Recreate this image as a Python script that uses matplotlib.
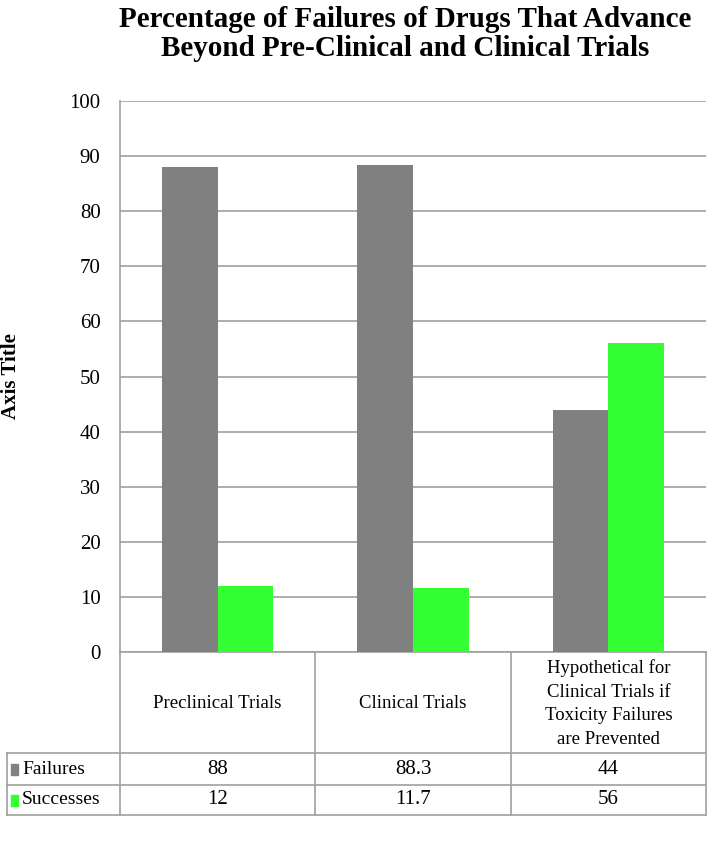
import numpy as np
import matplotlib
matplotlib.use("Agg")
import matplotlib.pyplot as plt
from matplotlib.patches import Rectangle

categories = ["Preclinical Trials", "Clinical Trials",
              "Hypothetical for\nClinical Trials if\nToxicity Failures\nare Prevented"]
series_names = ["Failures", "Successes"]
failures = [88, 88.3, 44]
successes = [12, 11.7, 56]
failure_labels = ["88", "88.3", "44"]
success_labels = ["12", "11.7", "56"]
y_ticks = [0, 10, 20, 30, 40, 50, 60, 70, 80, 90, 100]

GRAY = "#808080"
GREEN = "#33FF33"
LINE = "#A0A0A0"

plt.rcParams["font.family"] = ["Liberation Serif", "DejaVu Serif"]

W, H = 716, 857
fig = plt.figure(figsize=(W / 100, H / 100), dpi=100)

# plot area in pixels
px_left, px_right, px_top, px_bottom = 120, 706, 101, 652
ax = fig.add_axes([px_left / W, 1 - px_bottom / H,
                   (px_right - px_left) / W, (px_bottom - px_top) / H])

x = np.arange(len(categories))
bw = 0.285
ax.bar(x - bw / 2, failures, bw, color=GRAY, zorder=3)
ax.bar(x + bw / 2, successes, bw, color=GREEN, zorder=3)

ax.set_xlim(-0.5, len(categories) - 0.5)
ax.set_ylim(0, 100)
ax.set_yticks(y_ticks)
ax.set_yticklabels([str(t) for t in y_ticks], fontsize=15)
ax.tick_params(axis="y", length=0, pad=14)
ax.set_xticks([])
ax.yaxis.grid(True, color=LINE, linewidth=1.2, zorder=0)
for s in ["top", "right"]:
    ax.spines[s].set_visible(False)
for s in ["left", "bottom"]:
    ax.spines[s].set_color(LINE)
    ax.spines[s].set_linewidth(1.2)

# data table under the plot, drawn in figure pixels
def fx(p):
    return p / W

def fy(p):
    return 1 - p / H

row_cat = (652, 753)
row_f = (753, 785)
row_s = (785, 815)
leg_left = 7
col_edges = [px_left + (px_right - px_left) * i / len(categories) for i in range(len(categories) + 1)]

def hline(y, x0, x1):
    fig.add_artist(plt.Line2D([fx(x0), fx(x1)], [fy(y), fy(y)], color=LINE, lw=1.2))

def vline(xp, y0, y1):
    fig.add_artist(plt.Line2D([fx(xp), fx(xp)], [fy(y0), fy(y1)], color=LINE, lw=1.2))

for y in [row_f[0], row_s[0], row_s[1]]:
    hline(y, leg_left, px_right)
for xe in col_edges:
    vline(xe, row_cat[0], row_s[1])
vline(leg_left, row_f[0], row_s[1])

for i, cat in enumerate(categories):
    cx = (col_edges[i] + col_edges[i + 1]) / 2
    fig.text(fx(cx), fy(sum(row_cat) / 2 + 1), cat, ha="center", va="center",
             fontsize=13.5, linespacing=1.5)
    fig.text(fx(cx), fy(sum(row_f) / 2), failure_labels[i], ha="center", va="center", fontsize=15)
    fig.text(fx(cx), fy(sum(row_s) / 2), success_labels[i], ha="center", va="center", fontsize=15)

for (r0, r1), name, col in [(row_f, series_names[0], GRAY), (row_s, series_names[1], GREEN)]:
    cy = (r0 + r1) / 2
    fig.add_artist(Rectangle((fx(11), fy(cy + 5.5)), fx(7), 11 / H, color=col))
    fig.text(fx(22), fy(cy), name, ha="left", va="center", fontsize=14)

fig.text(fx(11), fy(376), "Axis Title", rotation=90,
         ha="center", va="center", fontsize=15, fontweight="bold")

fig.text(fx(405), fy(34), "Percentage of Failures of Drugs That Advance\nBeyond Pre-Clinical and Clinical Trials",
         ha="center", va="center", fontsize=21, fontweight="bold", linespacing=1.08)

fig.savefig("out.png", dpi=100)
